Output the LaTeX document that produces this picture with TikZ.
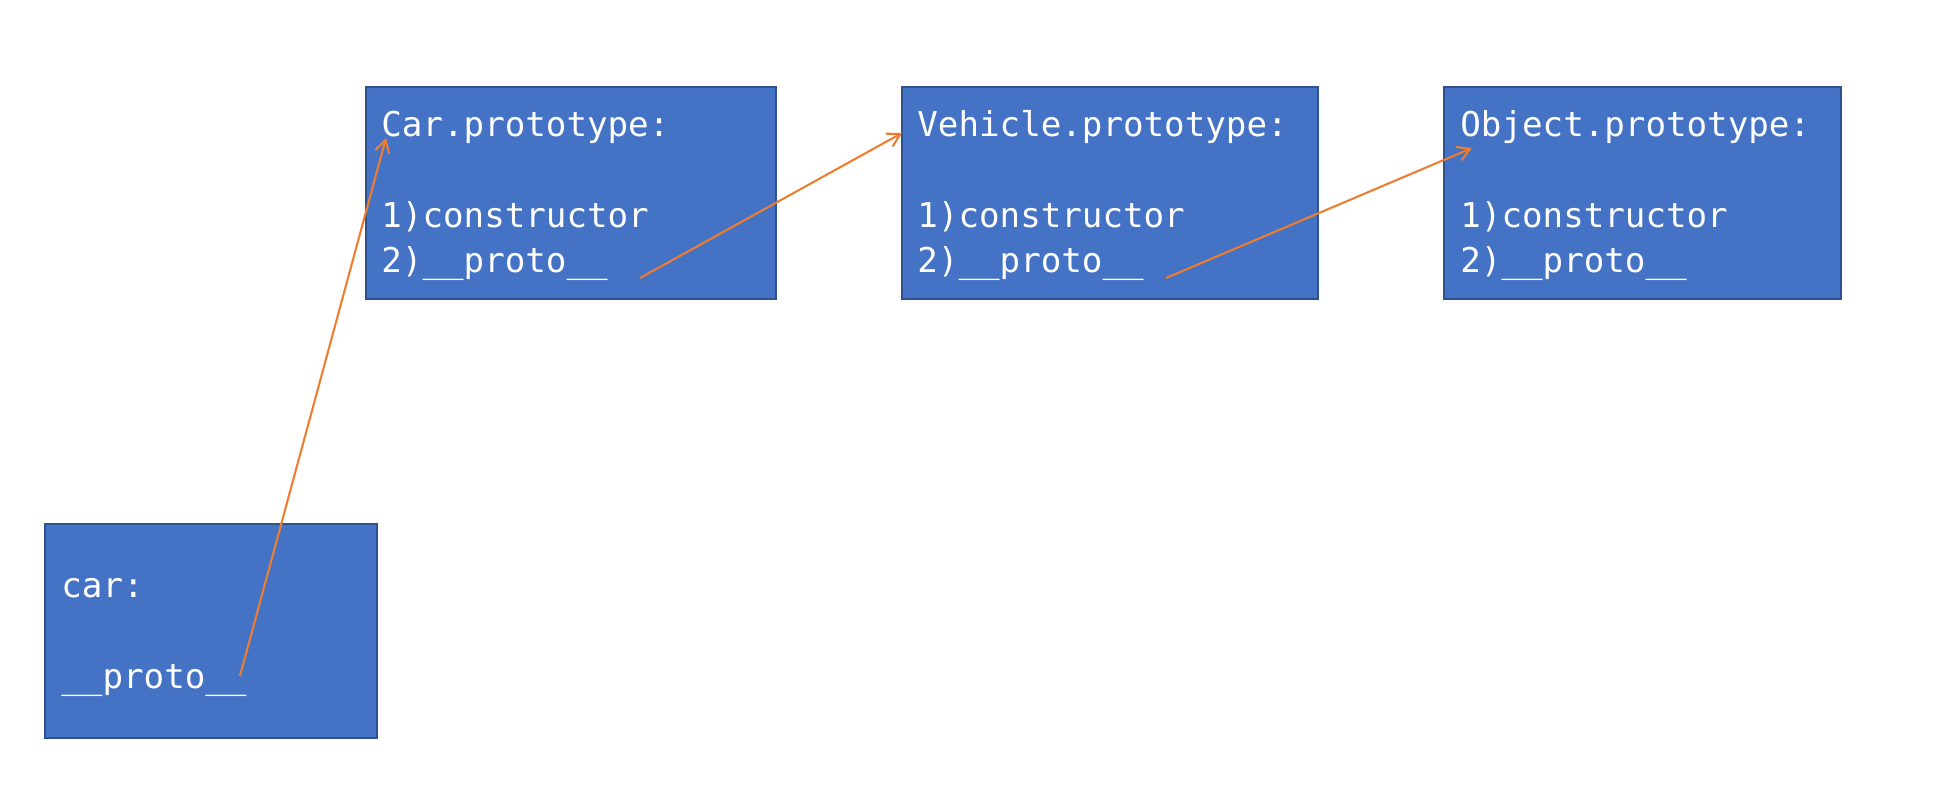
\documentclass[tikz,border=0pt]{standalone}
\usepackage{fontspec}
\usepackage{tikz}
\usetikzlibrary{arrows.meta}
\newfontfamily\codefont{DejaVu Sans Mono}
\definecolor{boxblue}{HTML}{4472C4}
\definecolor{boxedge}{HTML}{2F528F}
\definecolor{linkorange}{HTML}{ED7D31}

\begin{document}
\begin{tikzpicture}[x=0.48pt, y=-0.48pt,
    objbox/.style={draw=boxedge, fill=boxblue, line width=0.8pt, inner sep=0pt},
    code/.style={text=white, font=\codefont\fontsize{16.4}{21.6}\selectfont, inner sep=0pt, anchor=base west},
    link/.style={draw=linkorange, line width=1pt, -{Straight Barb[length=6pt, width=7pt]}}]
        \useasboundingbox (0,0) rectangle (1944,788);

        \node[objbox, minimum width=196.8pt, minimum height=101.8pt] (cpbox) at (571,193) {};
        \node[objbox, minimum width=199.7pt, minimum height=101.8pt] (vpbox) at (1110,193) {};
        \node[objbox, minimum width=190.6pt, minimum height=101.8pt] (opbox) at (1642.5,193) {};
        \node[objbox, minimum width=159.4pt, minimum height=102.7pt] (carbox) at (211,631) {};

        \node[code] (cptitle) at (381,137) {Car.prototype:};
        \node[code] (cpctor) at (381,228) {1)constructor};
        \node[code] (cpproto) at (381,273) {2)\_\_proto\_\_};

        \node[code] (vptitle) at (917,137) {Vehicle.prototype:};
        \node[code] (vpctor) at (917,228) {1)constructor};
        \node[code] (vpproto) at (917,273) {2)\_\_proto\_\_};

        \node[code] (optitle) at (1460,137) {Object.prototype:};
        \node[code] (opctor) at (1460,228) {1)constructor};
        \node[code] (opproto) at (1460,273) {2)\_\_proto\_\_};

        \node[code] (cartitle) at (61,598) {car:};
        \node[code] (carproto) at (61,689) {\_\_proto\_\_};

        \draw[link] ([shift={(-7,-5)}]carproto.east) -- ([shift={(5,1)}]cptitle.base west); % car -> Car.prototype
        \draw[link] ([shift={(32,5)}]cpproto.base east) -- ([shift={(-15,-4)}]vptitle.base west); % Car.prototype -> Vehicle.prototype
        \draw[link] ([shift={(22,5)}]vpproto.base east) -- ([shift={(12,11)}]optitle.base west); % Vehicle.prototype -> Object.prototype
    \end{tikzpicture}
\end{document}
